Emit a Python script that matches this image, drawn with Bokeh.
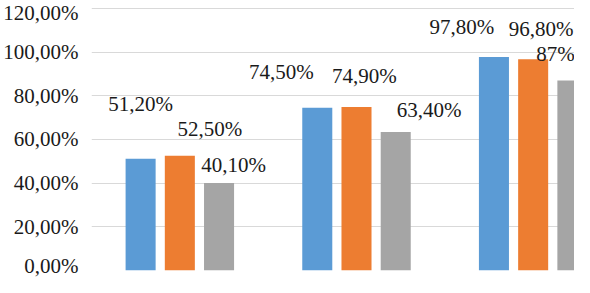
from bokeh.plotting import figure
from bokeh.models import ColumnDataSource, LabelSet, FixedTicker, Range1d
from bokeh.core.properties import value
from bokeh.embed import file_html
from bokeh.resources import INLINE

# ---- data ----
groups = [0, 1, 2]
series_blue = [51.2, 74.5, 97.8]
series_orange = [52.5, 74.9, 96.8]
series_gray = [40.1, 63.4, 87.0]
labels_blue = ["51,20%", "74,50%", "97,80%"]
labels_orange = ["52,50%", "74,90%", "96,80%"]
labels_gray = ["40,10%", "63,40%", "87%"]
y_ticks = [0, 20, 40, 60, 80, 100, 120]
y_tick_labels = ["0,00%", "20,00%", "40,00%", "60,00%", "80,00%", "100,00%", "120,00%"]

# ---- style ----
colors = ["#5B9BD5", "#ED7D31", "#A5A5A5"]
bar_offsets = [-0.222, 0.0, 0.222]
bar_width = 0.17
# label offsets in screen pixels relative to bar top centre (dx right, dy up)
label_dx = [[0, -36, -32], [30, 8, 8], [14.5, 33.5, -17]]
label_dy = [[54.5, 35.5, 30], [26.5, 31, 30], [18, 22, 27]]
FONT = "Liberation Serif"
FONT_SIZE = "21px"
TEXT_COLOR = "#1a1a1a"

p = figure(width=574, height=277, output_backend="svg", toolbar_location=None,
           x_range=Range1d(0.0, 2.734), y_range=Range1d(0, 123.66),
           min_border_left=90, min_border_right=0, min_border_top=0,
           min_border_bottom=7)
p.outline_line_color = None
p.background_fill_color = "white"
p.border_fill_color = "white"
p.xaxis.visible = False
p.xgrid.grid_line_color = None
p.ygrid.grid_line_color = "#D9D9D9"
p.ygrid.grid_line_width = 1
p.yaxis.ticker = FixedTicker(ticks=y_ticks)
p.yaxis.major_label_overrides = {t: l for t, l in zip(y_ticks, y_tick_labels)}
p.yaxis.axis_line_color = None
p.yaxis.major_tick_line_color = None
p.yaxis.minor_tick_line_color = None
p.yaxis.major_tick_in = 0
p.yaxis.major_tick_out = 0
p.yaxis.major_label_standoff = 13
p.yaxis.major_label_text_font = FONT
p.yaxis.major_label_text_font_size = FONT_SIZE
p.yaxis.major_label_text_color = TEXT_COLOR

all_series = [series_blue, series_orange, series_gray]
all_labels = [labels_blue, labels_orange, labels_gray]
for k, (vals, labs) in enumerate(zip(all_series, all_labels)):
    xs = [g + 0.5 + bar_offsets[k] for g in groups]
    src = ColumnDataSource(dict(x=xs, top=vals, text=labs,
                                dx=label_dx[k], dy=label_dy[k]))
    p.vbar(x="x", top="top", bottom=0, width=bar_width, source=src,
           fill_color=colors[k], line_color=None)
    ls = LabelSet(x="x", y="top", text="text", source=src,
                  x_offset="dx", y_offset="dy",
                  text_align="center", text_baseline="middle",
                  text_font=value(FONT), text_font_size=value(FONT_SIZE),
                  text_color=TEXT_COLOR)
    p.add_layout(ls)

open("out.html", "w").write(file_html(p, INLINE))
